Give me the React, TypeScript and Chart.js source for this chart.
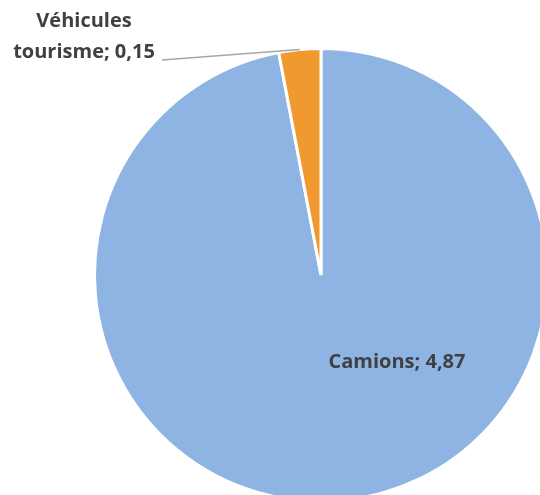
import React, { useEffect, useRef } from "react";
import { Chart, registerables } from "chart.js";

Chart.register(...registerables);

const categories = ["Camions", "Véhicules tourisme"];
const values = [4.87, 0.15];
const colors = ["#8EB4E3", "#F0992F"];

const fmt = (v: number) => v.toFixed(2).replace(".", ",");

const labelPlugin = {
  id: "customLabels",
  afterDatasetsDraw(chart: any) {
    const ctx = chart.ctx;
    const meta = chart.getDatasetMeta(0);
    const font = "bold 20px 'Open Sans', sans-serif";
    ctx.save();
    ctx.font = font;
    ctx.fillStyle = "#404040";
    ctx.textAlign = "center";
    ctx.textBaseline = "middle";
    // Camions label inside
    const a0 = meta.data[0];
    ctx.fillText(`${categories[0]}; ${fmt(values[0])}`, a0.x + 76, a0.y + 87);
    // Véhicules label outside with leader line
    const a1 = meta.data[1];
    const mid = (a1.startAngle + a1.endAngle) / 2;
    const ex = a1.x + Math.cos(mid) * a1.outerRadius;
    const ey = a1.y + Math.sin(mid) * a1.outerRadius;
    ctx.strokeStyle = "#A6A6A6";
    ctx.lineWidth = 1.5;
    ctx.beginPath();
    ctx.moveTo(162, 60);
    ctx.lineTo(ex, ey);
    ctx.stroke();
    const parts = categories[1].split(" ");
    ctx.fillText(parts[0], 84, 21);
    ctx.fillText(`${parts[1]}; ${fmt(values[1])}`, 84, 52);
    ctx.restore();
  },
};

export default function App() {
  const ref = useRef<HTMLCanvasElement>(null);
  useEffect(() => {
    document.body.style.margin = "0";
    const chart = new Chart(ref.current!, {
      type: "pie",
      data: {
        labels: categories,
        datasets: [
          {
            data: values,
            backgroundColor: colors,
            borderColor: "#FFFFFF",
            borderWidth: 3,
          },
        ],
      },
      options: {
        responsive: false,
        animation: false,
        layout: { padding: { left: 93, right: 93, top: 47, bottom: 47 } },
        plugins: {
          legend: { display: false },
          tooltip: { enabled: false },
        },
      },
      plugins: [labelPlugin],
    });
    return () => chart.destroy();
  }, []);
  return (
    <div style={{ width: 540, height: 495, overflow: "hidden", position: "relative", background: "#fff" }}>
      <canvas ref={ref} width={642} height={550} style={{ position: "absolute", left: 0, top: 0 }} />
    </div>
  );
}
